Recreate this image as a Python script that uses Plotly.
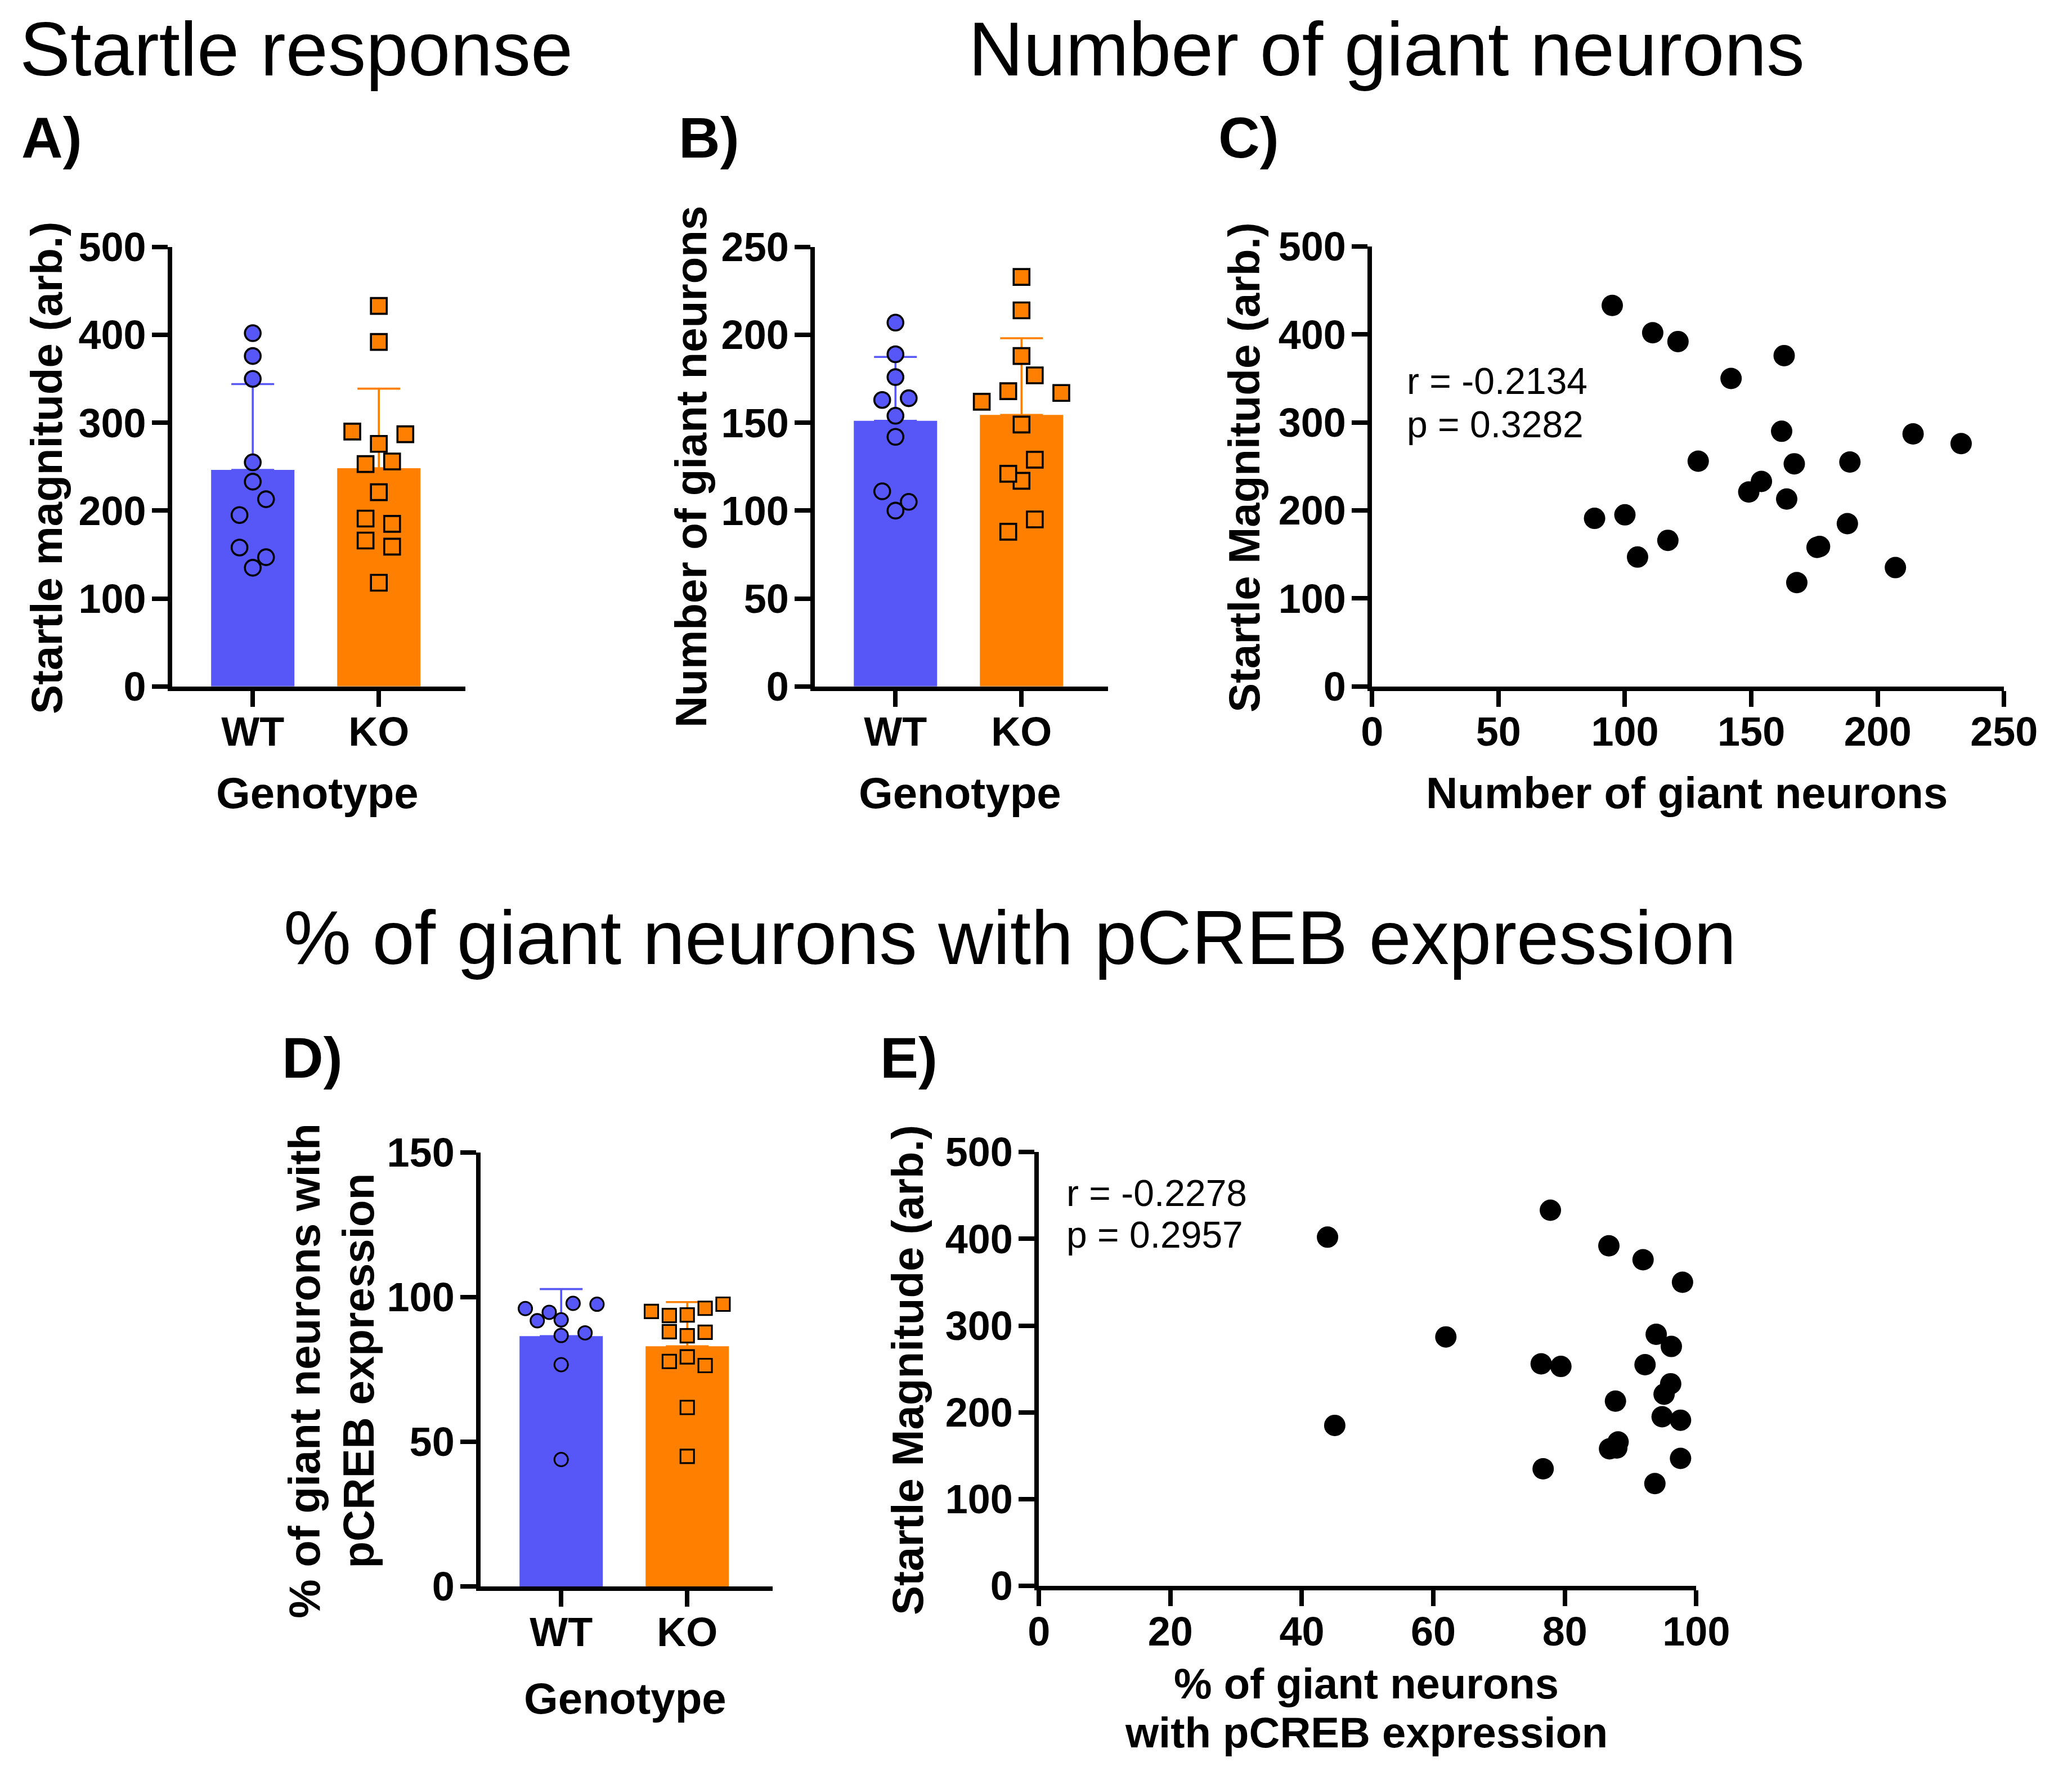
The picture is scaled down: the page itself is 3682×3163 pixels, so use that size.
import numpy as np
import plotly.graph_objects as go

# ---------------- data ----------------
genotypes = ["WT", "KO"]

wt_startle = [402, 376, 255, 233, 195, 350, 158, 213, 147, 135]
wt_neurons = [111, 163, 189, 154, 100, 142, 176, 164, 105, 207]
wt_pcreb = [43.9, 91.9, 92.2, 96.1, 94.8, 97.9, 86.8, 87.7, 97.6, 76.7]

ko_startle = [221, 118, 290, 276, 191, 185, 433, 166, 392, 159, 253, 256, 287]
ko_neurons = [149, 168, 162, 233, 88, 188, 95, 117, 121, 177, 167, 129, 214]
ko_pcreb = [95.1, 93.7, 93.9, 96.2, 97.6, 45.0, 77.8, 88.1, 86.7, 87.9, 79.4, 76.4, 61.9]

corr_C = ["r = -0.2134", "p = 0.3282"]
corr_E = ["r = -0.2278", "p = 0.2957"]

startle_ticks = [0, 100, 200, 300, 400, 500]
neuron_ticks = [0, 50, 100, 150, 200, 250]
pcreb_ticks = [0, 50, 100, 150]
pct_ticks = [0, 20, 40, 60, 80, 100]

# ---------------- style / geometry ----------------
W, H = 3682, 3163
FONT = "Liberation Sans, Arial, sans-serif"
BLUE = "#5757F8"
ORANGE = "#FF8000"

# positions measured on the reference, mapped into figure pixels
SX, OX = 1.0223, -19.3
SY, OY = 1.0279, -40.8
S = 1.025


def tx(v):
    return SX * v + OX


def ty(v):
    return SY * v + OY


LW = 8
TICKLEN = 28
TICKFONT = 72
TITLEFONT = 78
HEADFONT = 135
LABELFONT = 102
STATFONT = 66
CAT_PX = 224.0 * SX
FIRST_CAT_PX = 147.0 * SX

panels = {
    "A": dict(L=tx(301), R=tx(826), T=ty(438), B=ty(1221), ymax=500),
    "B": dict(L=tx(1443), R=tx(1968), T=ty(438), B=ty(1221), ymax=250),
    "C": dict(L=tx(2433), R=3620, T=ty(437), B=ty(1221), ymax=500, xmax=250),
    "D": dict(L=tx(849), R=tx(1372), T=ty(2050) - 6, B=ty(2833) - 16, ymax=150),
    "E": dict(L=tx(1841), R=tx(3013), T=ty(2049) - 6, B=ty(2832) - 16, ymax=500, xmax=100),
}


def xdom(p):
    return [(p["L"] + LW / 2) / W, p["R"] / W]


def ydom(p):
    return [1 - (p["B"] - LW / 2) / H, 1 - p["T"] / H]


def base_axis(standoff):
    return dict(showline=True, linecolor="black", linewidth=LW, ticks="outside",
                ticklen=TICKLEN, tickwidth=LW, tickcolor="black", showgrid=False,
                zeroline=False, fixedrange=True, ticklabelstandoff=standoff,
                tickfont=dict(family=FONT, size=TICKFONT, color="black", weight=700))


def swarm_offsets(values, ppu, diam, max_step=47.0 * S, max_spread=127.0 * S, tol=0.8):
    """Row-based beeswarm (GraphPad-like). Returns pixel offsets."""
    n = len(values)
    order = sorted(range(n), key=lambda i: (-values[i], i))
    rows = []
    for i in order:
        if rows and (values[rows[-1][0]] - values[i]) * ppu < diam:
            rows[-1].append(i)
        else:
            rows.append([i])
    longest = max(len(r) for r in rows)
    step = max_step if longest < 2 else min(max_step, max_spread / (longest - 1))
    slot = {}
    for row in rows:
        members = sorted(row)
        m = len(members)
        base = [k - (m - 1) / 2 for k in range(m)]
        patterns = [base, [3 * b for b in base], [b + 0.5 for b in base],
                    [b - 0.5 for b in base], [b + 1 for b in base], [b - 1 for b in base]]
        best, best_gap = None, -1.0
        for pat in patterns:
            gaps = [np.hypot((pat[k] - slot[j]) * step,
                             (values[members[k]] - values[j]) * ppu)
                    for k in range(m) for j in slot]
            gap = min(gaps) if gaps else 1e9
            if gap >= tol * diam:
                best = pat
                break
            if gap > best_gap:
                best, best_gap = pat, gap
        for k, idx in enumerate(members):
            slot[idx] = best[k]
    return [slot[i] * step for i in range(n)]


def sd(v):
    return float(np.std(np.asarray(v, dtype=float), ddof=1))


fig = go.Figure()
layout_axes = {}
axis_ids = {"A": "", "B": "2", "C": "3", "D": "4", "E": "5"}


def bar_panel(key, wt_vals, ko_vals, ticks, msize, mline, diam):
    p = panels[key]
    aid = axis_ids[key]
    xr0 = -(FIRST_CAT_PX - LW / 2) / CAT_PX
    xr1 = xr0 + (p["R"] - p["L"] - LW / 2) / CAT_PX
    xa = base_axis(-17)
    xa.update(domain=xdom(p), range=[xr0, xr1], tickvals=[0, 1], ticktext=genotypes,
              anchor="y" + aid)
    ya = base_axis(-4)
    ya.update(domain=ydom(p), range=[0, p["ymax"]], tickvals=ticks, anchor="x" + aid)
    layout_axes["xaxis" + aid] = xa
    layout_axes["yaxis" + aid] = ya
    ppu = (p["B"] - p["T"]) / p["ymax"]
    for ci, (vals, col, sym) in enumerate([(wt_vals, BLUE, "circle"), (ko_vals, ORANGE, "square")]):
        fig.add_trace(go.Bar(
            x=[ci], y=[float(np.mean(vals))], width=148 * SX / CAT_PX,
            marker=dict(color=col, line=dict(width=0)),
            error_y=dict(type="data", symmetric=False, array=[sd(vals)], arrayminus=[0],
                         color=col, thickness=3.6, width=38),
            xaxis="x" + aid, yaxis="y" + aid, showlegend=False, hoverinfo="skip"))
        offs = swarm_offsets(vals, ppu, diam)
        fig.add_trace(go.Scatter(
            x=[ci + o / CAT_PX for o in offs], y=vals, mode="markers",
            marker=dict(symbol=sym, size=msize, color=col,
                        line=dict(color="black", width=mline)),
            xaxis="x" + aid, yaxis="y" + aid, showlegend=False, hoverinfo="skip"))


def scatter_panel(key, xvals, yvals, xticks, yticks):
    p = panels[key]
    aid = axis_ids[key]
    xa = base_axis(-17)
    xa.update(domain=xdom(p), range=[0, p["xmax"]], tickvals=xticks, anchor="y" + aid)
    ya = base_axis(-4)
    ya.update(domain=ydom(p), range=[0, p["ymax"]], tickvals=yticks, anchor="x" + aid)
    layout_axes["xaxis" + aid] = xa
    layout_axes["yaxis" + aid] = ya
    fig.add_trace(go.Scatter(
        x=xvals, y=yvals, mode="markers",
        marker=dict(symbol="circle", size=38, color="black", line=dict(width=0)),
        xaxis="x" + aid, yaxis="y" + aid, showlegend=False, hoverinfo="skip"))


bar_panel("A", wt_startle, ko_startle, startle_ticks, 28, 3.6, 31)
bar_panel("B", wt_neurons, ko_neurons, neuron_ticks, 28, 3.6, 31)
scatter_panel("C", wt_neurons + ko_neurons, wt_startle + ko_startle, neuron_ticks, startle_ticks)
bar_panel("D", wt_pcreb, ko_pcreb, pcreb_ticks, 24, 3.1, 27)
scatter_panel("E", wt_pcreb + ko_pcreb, wt_startle + ko_startle, pct_ticks, startle_ticks)


def ann(text, fx, fy, size, bold=False, xanchor="center", yanchor="middle", angle=0):
    return dict(text=text, x=fx / W, y=1 - fy / H, xref="paper", yref="paper",
                xanchor=xanchor, yanchor=yanchor, showarrow=False, textangle=angle,
                font=dict(family=FONT, size=size, color="black", weight=700 if bold else 400))


c_mid = (panels["C"]["L"] + panels["C"]["R"]) / 2
e_mid = (panels["E"]["L"] + panels["E"]["R"]) / 2
d_mid_y = (panels["D"]["T"] + panels["D"]["B"]) / 2
e_mid_y = (panels["E"]["T"] + panels["E"]["B"]) / 2
head_y = max(ty(50), 49)
e_line2 = 3117
e_line1 = e_line2 - 89

annotations = [
    ann("Startle response", tx(32), head_y, HEADFONT, xanchor="left"),
    ann("Number of giant neurons", tx(2463), head_y, HEADFONT),
    ann("% of giant neurons with pCREB expression", tx(1793), ty(1663), HEADFONT),
    ann("A)", tx(35), ty(244), LABELFONT, bold=True, xanchor="left"),
    ann("B)", tx(1203), ty(244), LABELFONT, bold=True, xanchor="left"),
    ann("C)", tx(2162), ty(244), LABELFONT, bold=True, xanchor="left"),
    ann("D)", tx(498), ty(1876), LABELFONT, bold=True, xanchor="left"),
    ann("E)", tx(1561), ty(1876), LABELFONT, bold=True, xanchor="left"),
    ann("Startle magnitude (arb.)", tx(82), ty(830), TITLEFONT, bold=True, angle=-90),
    ann("Genotype", tx(563), ty(1406), TITLEFONT, bold=True),
    ann("Number of giant neurons", tx(1227), ty(828), TITLEFONT, bold=True, angle=-90),
    ann("Genotype", tx(1705), ty(1406), TITLEFONT, bold=True),
    ann("Startle Magnitude (arb.)", tx(2209), ty(829), TITLEFONT, bold=True, angle=-90),
    ann("Number of giant neurons", c_mid, ty(1406), TITLEFONT, bold=True),
    ann("% of giant neurons with", tx(539), d_mid_y, TITLEFONT, bold=True, angle=-90),
    ann("pCREB expression", tx(635), d_mid_y, TITLEFONT, bold=True, angle=-90),
    ann("Genotype", tx(1110), ty(3024) - 12, TITLEFONT, bold=True),
    ann("Startle Magnitude (arb.)", tx(1611), e_mid_y, TITLEFONT, bold=True, angle=-90),
    ann("% of giant neurons", e_mid, e_line1, 76, bold=True),
    ann("with pCREB expression", e_mid, e_line2, 76, bold=True),
    ann(corr_C[0], tx(2497), ty(675), STATFONT, xanchor="left"),
    ann(corr_C[1], tx(2497), ty(752), STATFONT, xanchor="left"),
    ann(corr_E[0], tx(1892), ty(2116), STATFONT, xanchor="left"),
    ann(corr_E[1], tx(1892), ty(2190), STATFONT, xanchor="left"),
]

fig.update_layout(
    width=W, height=H, margin=dict(l=0, r=0, t=0, b=0, pad=0),
    paper_bgcolor="white", plot_bgcolor="white", showlegend=False,
    font=dict(family=FONT, color="black"),
    annotations=annotations, barmode="overlay",
    **layout_axes,
)

fig.write_html("out.html", config={"displayModeBar": False},
               post_script="document.body.style.margin='0';")
